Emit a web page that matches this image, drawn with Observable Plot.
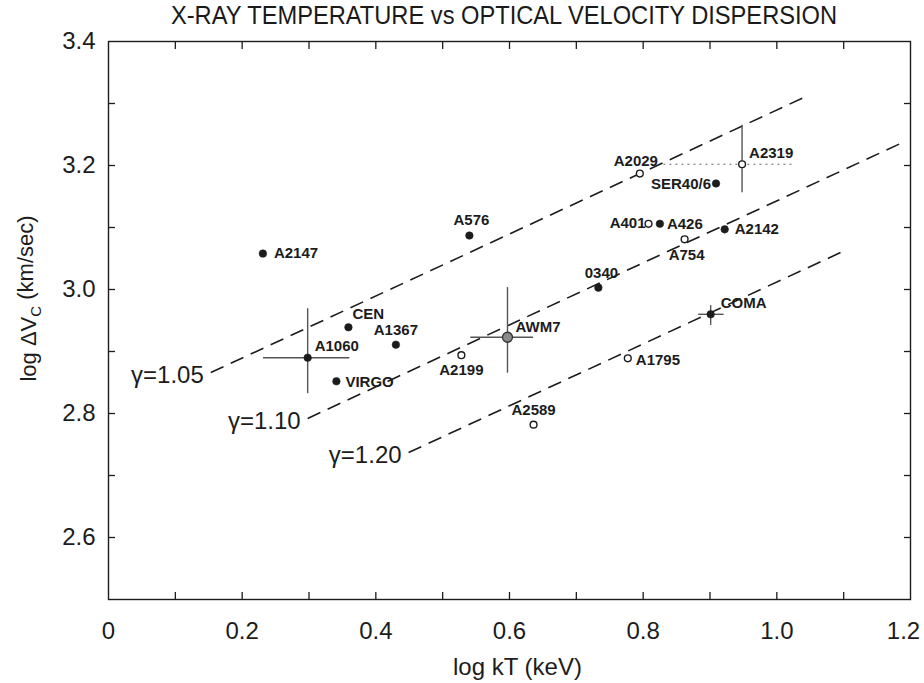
<!DOCTYPE html>
<html><head><meta charset="utf-8">
<script src="https://cdn.jsdelivr.net/npm/d3@7"></script>
<script src="https://cdn.jsdelivr.net/npm/@observablehq/plot@0.6"></script>
<style>
body{margin:0;background:#fff;}
#title{height:30px;line-height:32px;font:26px "Liberation Sans",Arial,sans-serif;text-align:center;padding-left:84px;color:#1a1a1a;white-space:nowrap;}
#title span{display:inline-block;transform:scaleX(0.91);transform-origin:center;}
</style></head><body>
<div id="title"><span>X-RAY TEMPERATURE vs OPTICAL VELOCITY DISPERSION</span></div>
<div id="chart"></div>
<script>
// ---- data ----
const names  = ["A2147","A1060","CEN","VIRGO","A1367","A576","AWM7","A2199","A2589","0340","A2029","A2319","SER40/6","A401","A426","A2142","A754","COMA","A1795"];
const logKT  = [0.231,0.298,0.359,0.341,0.430,0.540,0.597,0.528,0.636,0.733,0.795,0.948,0.909,0.808,0.825,0.922,0.862,0.901,0.777];
const logDV  = [3.058,2.890,2.939,2.852,2.911,3.087,2.923,2.894,2.782,3.003,3.187,3.202,3.171,3.106,3.106,3.097,3.081,2.960,2.889];
const kind   = ["filled","filled","filled","filled","filled","filled","gray","open","open","filled","open","open","filled","open","filled","filled","open","filled","open"];

// error bars
const errName = ["A1060","AWM7","A2319","COMA"];
const errX1   = [0.232,0.542,0.831,0.883];
const errX2   = [0.361,0.636,1.025,0.921];
const errY1   = [2.832,2.865,3.156,2.942];
const errY2   = [2.969,3.003,3.265,2.974];
const errHStyle = ["solid","solid","dotted","solid"];

// gamma model lines
const gammaLabel = ["γ=1.05","γ=1.10","γ=1.20"];
const gX1 = [0.153,0.298,0.449];
const gY1 = [2.866,2.792,2.737];
const gX2 = [1.045,1.190,1.100];
const gY2 = [3.312,3.238,3.062];

// axes
const xTicks = [0.1,0.2,0.3,0.4,0.5,0.6,0.7,0.8,0.9,1.0,1.1];
const yTicks = [2.6,2.7,2.8,2.9,3.0,3.1,3.2,3.3];
const xTickLabels = [0,0.2,0.4,0.6,0.8,1.0,1.2];
const yTickLabels = [2.6,2.8,3.0,3.2,3.4];
const xTitle = "log kT (keV)";
const yTitle = "log ΔVC (km/sec)";

// ---- layout (label placement) ----
const place = {
  "A2147":{a:"start",dx:11,dy:0}, "A1060":{a:"start",dx:7,dy:-12}, "CEN":{a:"start",dx:4,dy:-13},
  "VIRGO":{a:"start",dx:9,dy:1}, "A1367":{a:"middle",dx:0,dy:-14}, "A576":{a:"middle",dx:2,dy:-15},
  "AWM7":{a:"start",dx:8,dy:-10}, "A2199":{a:"middle",dx:0,dy:15}, "A2589":{a:"middle",dx:0,dy:-14},
  "0340":{a:"middle",dx:3,dy:-14}, "A2029":{a:"middle",dx:-4,dy:-12}, "A2319":{a:"start",dx:7,dy:-11},
  "SER40/6":{a:"end",dx:-5,dy:1}, "A401":{a:"end",dx:-3,dy:-1}, "A426":{a:"start",dx:7,dy:0},
  "A2142":{a:"start",dx:10,dy:0}, "A754":{a:"middle",dx:2,dy:16}, "COMA":{a:"start",dx:10,dy:-11},
  "A1795":{a:"start",dx:8,dy:2}
};

const ink = "#1c1c1c";
const font = "'Liberation Sans', Arial, sans-serif";
const pts = names.map((n,i)=>({name:n,x:logKT[i],y:logDV[i],kind:kind[i]}));
const errs = errName.map((n,i)=>({name:n,x1:errX1[i],x2:errX2[i],y1:errY1[i],y2:errY2[i],h:errHStyle[i],x:logKT[names.indexOf(n)],y:logDV[names.indexOf(n)]}));
const gl = gammaLabel.map((t,i)=>({t,x1:gX1[i],y1:gY1[i],x2:gX2[i],y2:gY2[i]}));

const labelMarks = pts.map(p => Plot.text([p], {x:"x", y:"y", text:"name", textAnchor:place[p.name].a,
  dx:place[p.name].dx, dy:place[p.name].dy, fontSize:15, fontWeight:"bold", fill:ink}));
const fmtX = d => d===0 ? "0" : d.toFixed(1);

const plot = Plot.plot({
  width:924, height:653,
  marginLeft:108, marginRight:14, marginTop:11, marginBottom:84,
  style:{fontFamily:font, color:ink, background:"#fff", overflow:"visible"},
  x:{domain:[0,1.2], axis:null},
  y:{domain:[2.5,3.4], axis:null},
  marks:[
    Plot.frame({stroke:ink, strokeWidth:1.4}),
    Plot.axisX(xTicks,{anchor:"bottom", tickSize:-7, tickFormat:()=>"", label:null, stroke:ink, strokeWidth:1.3}),
    Plot.axisX(xTicks,{anchor:"top", tickSize:-7, tickFormat:()=>"", label:null, stroke:ink, strokeWidth:1.3}),
    Plot.axisY(yTicks,{anchor:"left", tickSize:-7, tickFormat:()=>"", label:null, stroke:ink, strokeWidth:1.3}),
    Plot.axisY(yTicks,{anchor:"right", tickSize:-7, tickFormat:()=>"", label:null, stroke:ink, strokeWidth:1.3}),
    Plot.axisX(xTickLabels.slice(0,-1),{anchor:"bottom", tickSize:0, tickPadding:22, fontSize:24, label:null, fill:ink, tickFormat:fmtX}),
    Plot.axisX(xTickLabels.slice(-1),{anchor:"bottom", tickSize:0, tickPadding:22, fontSize:24, label:null, fill:ink, tickFormat:fmtX, dx:-7}),
    Plot.axisY(yTickLabels,{anchor:"left", tickSize:0, tickPadding:13, fontSize:24, label:null, fill:ink,
      tickFormat:d=>d.toFixed(1)}),
    Plot.text([xTitle],{frameAnchor:"bottom", lineAnchor:"middle", dy:68, dx:8, fontSize:24, fill:ink}),
    Plot.text([yTitle],{frameAnchor:"left", textAnchor:"middle", lineAnchor:"middle", rotate:-90, dx:-80, dy:-22, fontSize:22, fill:ink}),
    // gamma lines
    Plot.link(gl,{x1:"x1",y1:"y1",x2:"x2",y2:"y2", stroke:ink, strokeWidth:1.6, strokeDasharray:"14,8"}),
    Plot.text(gl,{x:"x1",y:"y1",text:"t",textAnchor:"end",dx:-7,dy:3,fontSize:24,fill:ink}),
    // error bars
    Plot.ruleY(errs.filter(e=>e.h==="solid"),{y:"y",x1:"x1",x2:"x2",stroke:"#555",strokeWidth:1.4}),
    Plot.ruleY(errs.filter(e=>e.h==="dotted"),{y:"y",x1:"x1",x2:"x2",stroke:"#666",strokeWidth:1.2,strokeDasharray:"2,4"}),
    Plot.ruleX(errs,{x:"x",y1:"y1",y2:"y2",stroke:"#555",strokeWidth:1.4}),
    // points
    Plot.dot(pts.filter(p=>p.kind==="filled"),{x:"x",y:"y",r:3.8,fill:ink,stroke:ink,strokeWidth:0.5}),
    Plot.dot(pts.filter(p=>p.kind==="open"),{x:"x",y:"y",r:3.4,fill:"#fff",stroke:ink,strokeWidth:1.4}),
    Plot.dot(pts.filter(p=>p.kind==="gray"),{x:"x",y:"y",r:5,fill:"#8a8a8a",stroke:"#333",strokeWidth:1.3}),
    ...labelMarks
  ]
});
document.getElementById("chart").appendChild(plot);
// subscript C in the y title, centred on its anchor
d3.select(plot).selectAll("text").filter(function(){return this.textContent===yTitle;})
  .each(function(){
    const t = d3.select(this); t.text(null).attr("text-anchor","middle");
    t.append("tspan").text("log ΔV");
    t.append("tspan").attr("font-size",15).attr("dy","0.35em").text("C");
    t.append("tspan").attr("dy","-0.35em").text(" (km/sec)");
  });
</script></body></html>
